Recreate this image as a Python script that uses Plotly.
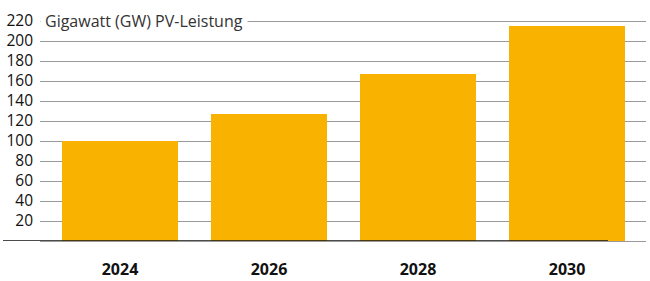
import plotly.graph_objects as go

years = ["2024", "2026", "2028", "2030"]
gw = [100, 127, 167, 215]
y_ticks = [20, 40, 60, 80, 100, 120, 140, 160, 180, 200, 220]
y_label = "Gigawatt (GW) PV-Leistung"

BAR = "#F9B200"
GRID = "#9a9a9a"

fig = go.Figure(go.Bar(x=years, y=gw, marker=dict(color=BAR, line=dict(width=0)), width=0.778))

fig.update_layout(
    width=650, height=281,
    margin=dict(l=40, r=4, t=16, b=40, autoexpand=False),
    paper_bgcolor="white", plot_bgcolor="white",
    showlegend=False,
    bargap=0,
    font=dict(family="Open Sans", color="#1a1a1a"),
)
fig.update_xaxes(
    type="category", range=[-0.537, 3.530], automargin=False,
    showgrid=False, zeroline=False, showline=False, ticks="",
    tickfont=dict(size=16, family="Open Sans", color="#111", weight="bold"),
    ticklabelstandoff=17,
)
fig.update_yaxes(
    range=[0, 225], tickvals=y_ticks, automargin=False,
    showgrid=True, gridcolor=GRID, gridwidth=1.3,
    zeroline=True, zerolinecolor=GRID, zerolinewidth=1.3,
    showline=False, ticks="",
    tickfont=dict(size=15.5, family="Open Sans", color="#111"),
    ticklabelstandoff=6,
)
# black baseline extending left of the plot
fig.add_shape(type="line", xref="paper", yref="y",
              x0=(3 - 40) / 606, x1=(608 - 40) / 606, y0=0, y1=0,
              line=dict(color="#111", width=1.5), layer="above")
fig.add_annotation(
    xref="paper", yref="y", x=0, y=y_ticks[-1], xanchor="left", yanchor="middle",
    text=y_label, showarrow=False,
    font=dict(size=16, family="Open Sans", color="#333"),
    bgcolor="white", borderpad=4,
)
fig.write_html("out.html", config={"displayModeBar": False},
               post_script="document.body.style.margin='0';")
